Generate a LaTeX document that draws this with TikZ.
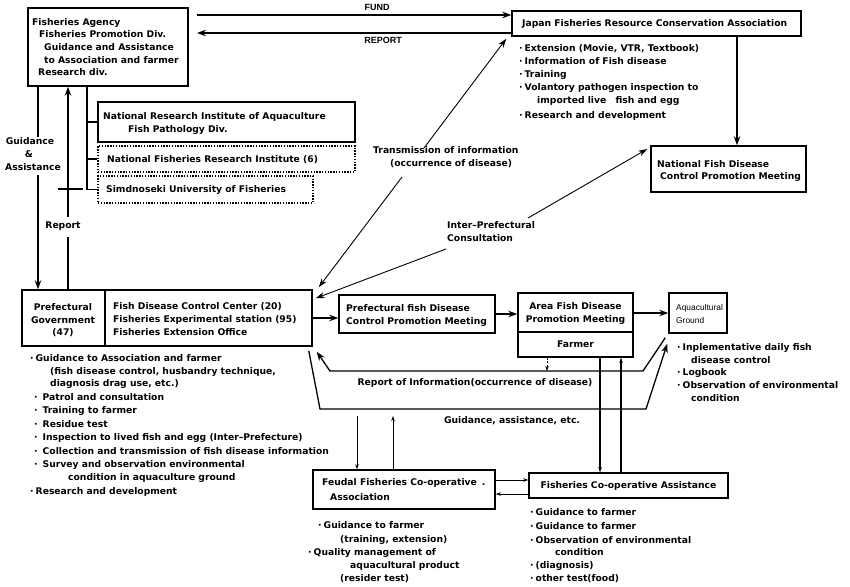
\documentclass[tikz,border=0pt]{standalone}
\usepackage{fontspec}
\setmainfont{DejaVu Sans}
\newfontfamily\lightfont{Liberation Sans}
\usetikzlibrary{arrows.meta}
\begin{document}
\begin{tikzpicture}[x=1pt,y=-1pt,
  box/.style={draw, line width=1.5pt, inner sep=0pt},
  dotbox/.style={draw, line width=1.1pt, dash pattern=on 1.4pt off 1.4pt, inner sep=0pt},
  conn/.style={line width=1.3pt},
  thin/.style={line width=0.9pt},
  arr/.style={conn, -{Stealth[length=9pt,width=6.5pt]}},
  tarr/.style={thin, -{Stealth[length=9pt,width=6pt]}},
  sarr/.style={thin, -{Stealth[length=5pt,width=3.5pt]}},
  txt/.style={anchor=mid west, inner sep=0pt, font=\bfseries\fontsize{9.2}{11}\selectfont},
  ctxt/.style={anchor=mid, inner sep=0pt, font=\bfseries\fontsize{9.2}{11}\selectfont},
  ltxt/.style={anchor=mid west, inner sep=0pt, font=\lightfont\fontsize{8.4}{10}\selectfont},
  lctxt/.style={anchor=mid, inner sep=0pt, font=\lightfont\bfseries\fontsize{9}{10}\selectfont}
]
\useasboundingbox[fill=white] (0,0) rectangle (850,586);

% ---------- boxes ----------
\node[box, minimum width=160pt, minimum height=78pt] (fa) at (108,47) {};
\node[box, minimum width=289pt, minimum height=25pt] (jf) at (656.5,23.5) {};
\node[box, minimum width=155pt, minimum height=46pt] (nfd) at (728.5,169) {};
\node[box, minimum width=257pt, minimum height=40pt] (nria) at (226.5,122) {};
\node[dotbox, minimum width=257pt, minimum height=26pt] (nfri) at (226.5,159) {};
\node[dotbox, minimum width=215pt, minimum height=27pt] (simo) at (205.5,189.5) {};
\node[box, minimum width=290pt, minimum height=56pt] (pg) at (167,318) {};
\node[box, minimum width=156pt, minimum height=38pt] (pfd) at (417,314) {};
\node[box, minimum width=115pt, minimum height=64pt] (afd) at (575.5,325) {};
\node[box, minimum width=58pt, minimum height=40pt] (aq) at (698,313) {};
\node[box, minimum width=182pt, minimum height=39pt] (feu) at (404,489.5) {};
\node[box, minimum width=199pt, minimum height=25pt] (coop) at (628.5,485.5) {};

% dividers
\coordinate (pdx) at (105,0);
\draw[line width=1.5pt] (pdx |- pg.north) -- (pdx |- pg.south);
\coordinate (ady) at (0,332);
\draw[line width=1.5pt] (afd.west |- ady) -- (afd.east |- ady);

% ---------- texts ----------
\node[txt] (fa1) at (32,23) {Fisheries Agency};
\node[txt] (fa2) at (39,35) {Fisheries Promotion Div.};
\node[txt] (fa3) at (44,48) {Guidance and Assistance};
\node[txt] (fa4) at (44,61) {to Association and farmer};
\node[txt] (fa5) at (38,73) {Research div.};

\node[txt] (jft) at (522,24) {Japan Fisheries Resource Conservation Association};
\node[txt] (jb1) at (519,49) {·\hspace{2pt}Extension (Movie, VTR, Textbook)};
\node[txt] (jb2) at (519,62) {·\hspace{2pt}Information of Fish disease};
\node[txt] (jb3) at (519,75) {·\hspace{2pt}Training};
\node[txt] (jb4) at (519,88) {·\hspace{2pt}Volantory pathogen inspection to};
\node[txt] (jb5) at (537,101) {imported live\hspace{6pt} fish and egg};
\node[txt] (jb6) at (519,116) {·\hspace{2pt}Research and development};

\node[txt] (nfd1) at (657,165) {National Fish Disease};
\node[txt] (nfd2) at (660,177) {Control Promotion Meeting};

\node[txt] (nr1) at (103,117) {National Research Institute of Aquaculture};
\node[txt] (nr2) at (128,130) {Fish Pathology Div.};
\node[txt] (nf1) at (107,160) {National Fisheries Research Institute (6)};
\node[txt] (sm1) at (106,190) {Simdnoseki University of Fisheries};

\node[ctxt] (gl1) at (30,142) {Guidance};
\node[ctxt] (gl2) at (29,155) {\&};
\node[ctxt] (gl3) at (33,168) {Assistance};
\node[ctxt] (rl) at (63,226) {Report};

\node[ctxt] (pg1) at (63,308) {Prefectural};
\node[ctxt] (pg2) at (63,321) {Government};
\node[ctxt] (pg3) at (63,333) {(47)};
\node[txt] (pg4) at (113,307) {Fish Disease Control Center (20)};
\node[txt] (pg5) at (113,320) {Fisheries Experimental station (95)};
\node[txt] (pg6) at (113,333) {Fisheries Extension Office};

\node[txt] (tr1) at (373,151) {Transmission of information};
\node[txt] (tr2) at (390,164) {(occurrence of disease)};
\node[txt] (ip1) at (447,226) {Inter--Prefectural};
\node[txt] (ip2) at (447,239) {Consultation};

\node[txt] (pf1) at (346,309) {Prefectural fish Disease};
\node[txt] (pf2) at (346,322) {Control Promotion Meeting};
\node[ctxt] (af1) at (575.5,307) {Area Fish Disease};
\node[ctxt] (af2) at (575.5,320) {Promotion Meeting};
\node[ctxt] (af3) at (575.5,345) {Farmer};
\node[ltxt] (aq1) at (676,308) {Aquacultural};
\node[ltxt] (aq2) at (676,321) {Ground};

\node[txt] (ab1) at (677,348) {·\hspace{2pt}Inplementative daily fish};
\node[txt] (ab2) at (691,361) {disease control};
\node[txt] (ab3) at (677,373) {·\hspace{2pt}Logbook};
\node[txt] (ab4) at (677,386) {·\hspace{2pt}Observation of environmental};
\node[txt] (ab5) at (691,399) {condition};

\node[ctxt] (rpl) at (475,383) {Report of Information(occurrence of disease)};
\node[ctxt] (gdl) at (512,421) {Guidance, assistance, etc.};

\node[txt] (fe1) at (322,483) {Feudal Fisheries Co-operative\hspace{5pt}.};
\node[txt] (fe2) at (330,498) {Association};
\node[ctxt] (co1) at (628.5,486) {Fisheries Co-operative Assistance};

\node[txt] (cb1) at (530,513) {·\hspace{2pt}Guidance to farmer};
\node[txt] (cb2) at (530,527) {·\hspace{2pt}Guidance to farmer};
\node[txt] (cb3) at (530,541) {·\hspace{2pt}Observation of environmental};
\node[txt] (cb4) at (555,553) {condition};
\node[txt] (cb5) at (530,566) {·\hspace{2pt}(diagnosis)};
\node[txt] (cb6) at (530,579) {·\hspace{2pt}other test(food)};

\node[txt] (fb1) at (318,526) {·\hspace{2pt}Guidance to farmer};
\node[txt] (fb2) at (340,540) {(training, extension)};
\node[txt] (fb3) at (308,553) {·\hspace{2pt}Quality management of};
\node[txt] (fb4) at (350,566) {aquacultural product};
\node[txt] (fb5) at (340,579) {(resider test)};

\node[txt] (lb1) at (30,359) {·\hspace{2pt}Guidance to Association and farmer};
\node[txt] (lb2) at (50,372) {(fish disease control, husbandry technique,};
\node[txt] (lb3) at (50,384) {diagnosis drag use, etc.)};
\node[txt] (lb4) at (34,398) {·\hspace{5pt}Patrol and consultation};
\node[txt] (lb5) at (34,411) {·\hspace{5pt}Training to farmer};
\node[txt] (lb6) at (34,425) {·\hspace{5pt}Residue test};
\node[txt] (lb7) at (34,438) {·\hspace{5pt}Inspection to lived fish and egg (Inter--Prefecture)};
\node[txt] (lb8) at (34,452) {·\hspace{5pt}Collection and transmission of fish disease information};
\node[txt] (lb9) at (34,465) {·\hspace{5pt}Survey and observation environmental};
\node[txt] (lb10) at (68,478) {condition in aquaculture ground};
\node[txt] (lb11) at (30,492) {·\hspace{2pt}Research and development};

\node[lctxt] (fundl) at (377,8) {FUND};
\node[lctxt] (repl) at (383,41) {REPORT};

% ---------- connectors ----------
\coordinate (fundL) at (197,15);
\draw[arr] (fundL) -- (fundL -| jf.west);
\coordinate (repL) at (197,33);
\draw[arr] (repL -| jf.west) -- (repL);

\coordinate (jx) at (737,0);
\draw[arr] (jx |- jf.south) -- (jx |- nfd.north);

% research branch
\coordinate (bx) at (87,0);
\draw[conn] (bx |- fa.south) -- (bx |- simo.west) -- (simo.west);
\draw[conn] (bx |- nria.west) -- (nria.west);
\draw[conn] (bx |- nfri.west) -- (nfri.west);
\coordinate (s1) at (58,189);
\coordinate (s2) at (83,189);
\draw[conn] (s1) -- (s2);

% guidance & assistance
\coordinate (gx) at (38,0);
\coordinate (g1) at (38,137);
\coordinate (g2) at (38,175);
\draw[conn] (gx |- fa.south) -- (g1);
\draw[arr] (g2) -- (gx |- pg.north);

% report up
\coordinate (rx) at (68,0);
\coordinate (r1) at (68,217);
\coordinate (r2) at (68,237);
\draw[arr] (r1) -- (rx |- fa.south);
\draw[conn] (rx |- pg.north) -- (r2);

% transmission of information
\coordinate (t1) at (402,177);
\coordinate (t2) at (424,148);
\draw[tarr] (t1) -- ([shift={(6,-2)}]pg.north east);
\draw[tarr] (t2) -- ([shift={(-5,2)}]jf.south west);

% inter-prefectural consultation
\coordinate (i1) at (446,249);
\coordinate (i2) at (528,218);
\draw[tarr] (i1) -- ([shift={(3,9)}]pg.north east);
\draw[tarr] (i2) -- ([shift={(-3,-20)}]nfd.west);

% main chain
\draw[arr] (pg.east) -- (pg.east -| pfd.west);
\draw[arr] (pfd.east) -- (pfd.east -| afd.west);
\draw[arr] (aq.west -| afd.east) -- (aq.west);

% report of information
\coordinate (rp1) at (643,371);
\coordinate (rp2) at (330,371);
\draw[arr] ([shift={(-3,4)}]aq.south west) -- (rp1) -- (rp2) -- ([shift={(4,5)}]pg.south east);
\coordinate (fx) at (547,371);
\draw[sarr, dash pattern=on 2pt off 1.5pt] (fx |- afd.south) -- (fx);

% guidance, assistance
\coordinate (gp1) at (320,409);
\coordinate (gp2) at (646,409);
\draw[arr] ([shift={(-4,4)}]pg.south east) -- (gp1) -- (gp2) -- ([shift={(-1,10)}]aq.south west);

% to feudal
\coordinate (v1) at (357,416);
\draw[sarr] (v1) -- (v1 |- feu.north);
\coordinate (v2) at (393,416);
\draw[sarr] (v2 |- feu.north) -- (v2);

% feudal <-> coop
\coordinate (h1) at (0,480);
\draw[sarr] (feu.east |- h1) -- (coop.west |- h1);
\coordinate (h2) at (0,494);
\draw[sarr] (coop.west |- h2) -- (feu.east |- h2);

% area <-> coop
\coordinate (x600) at (600,0);
\draw[sarr, conn] (x600 |- afd.south) -- (x600 |- coop.north);
\coordinate (x621) at (621,0);
\draw[sarr, conn] (x621 |- coop.north) -- (x621 |- afd.south);
\end{tikzpicture}
\end{document}
